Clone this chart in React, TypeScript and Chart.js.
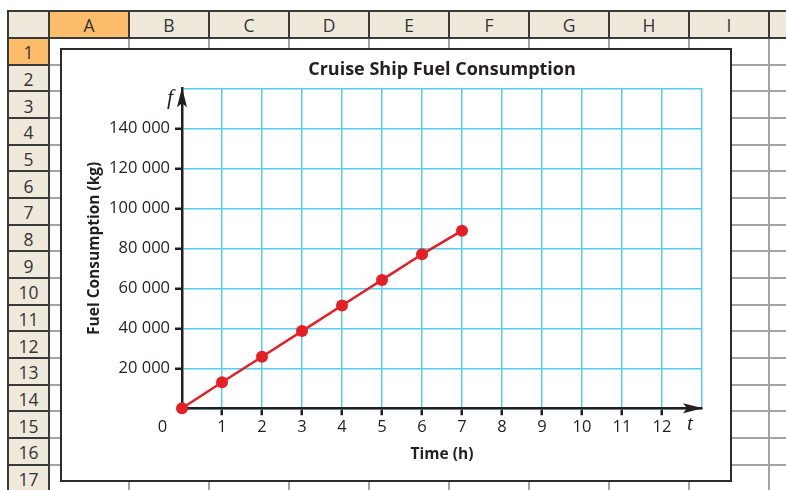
import React, { useEffect, useRef } from 'react';
import { Chart, registerables } from 'chart.js';

Chart.register(...registerables);

// ---------- data ----------
const timeHours = [0, 1, 2, 3, 4, 5, 6, 7];
const fuelKg = [0, 13000, 25800, 38600, 51400, 64200, 77000, 88800];
const xTickLabels = ['1', '2', '3', '4', '5', '6', '7', '8', '9', '10', '11', '12'];
const yTickLabels = ['20 000', '40 000', '60 000', '80 000', '100 000', '120 000', '140 000'];
const chartTitle = 'Cruise Ship Fuel Consumption';
const xAxisTitle = 'Time (h)';
const yAxisTitle = 'Fuel Consumption (kg)';
const columnLetters = ['A', 'B', 'C', 'D', 'E', 'F', 'G', 'H', 'I', ''];
const rowNumbers = [1, 2, 3, 4, 5, 6, 7, 8, 9, 10, 11, 12, 13, 14, 15, 16, 17];

// ---------- styling constants ----------
const FONT = '"Open Sans", sans-serif';
const INK = '#231f20';
const GRID = '#55cdf2';
const RED = '#e51f26';
const BEIGE = '#efe9dc';
const ORANGE = '#fdbd6b';
const DARK_LINE = '#3a3a3a';
const GRAY_LINE = '#a3a3a3';

const SHEET_L = 8;
const SHEET_T = 11;
const HEAD_B = 38;
const ROWHDR_R = 49;
const COL_W = 80;
const ROW_H = 26.67;
const PAGE_W = 786;
const PAGE_H = 490;

const axisDecor = {
  id: 'axisDecor',
  afterDraw(chart: any) {
    const ctx = chart.ctx;
    const xs = chart.scales.x;
    const ys = chart.scales.y;
    const x0 = xs.getPixelForValue(xs.min);
    const xEnd = xs.getPixelForValue(xs.max);
    const y0 = ys.getPixelForValue(ys.min);
    const yTop = ys.getPixelForValue(ys.max);
    ctx.save();
    ctx.fillStyle = INK;
    // y arrow head
    ctx.beginPath();
    ctx.moveTo(x0, yTop - 1);
    ctx.lineTo(x0 + 5, yTop + 19);
    ctx.lineTo(x0, yTop + 15);
    ctx.lineTo(x0 - 5, yTop + 19);
    ctx.closePath();
    ctx.fill();
    // x arrow head
    ctx.beginPath();
    ctx.moveTo(xEnd + 1, y0);
    ctx.lineTo(xEnd - 19, y0 + 5);
    ctx.lineTo(xEnd - 15, y0);
    ctx.lineTo(xEnd - 19, y0 - 5);
    ctx.closePath();
    ctx.fill();
    // origin label
    ctx.textAlign = 'center';
    ctx.textBaseline = 'middle';
    ctx.font = '16.5px ' + FONT;
    ctx.fillText('0', x0 - 19.5, y0 + 19);
    // variable names
    ctx.font = 'italic 22px "Liberation Serif", serif';
    ctx.fillText('f', x0 - 12, yTop + 10);
    ctx.font = 'italic 21px "Liberation Serif", serif';
    ctx.fillText('t', xEnd - 12, y0 + 16);
    ctx.restore();
  },
};

function ChartBox() {
  const ref = useRef<HTMLCanvasElement | null>(null);
  useEffect(() => {
    if (!ref.current) return;
    const chart = new Chart(ref.current, {
      type: 'line',
      data: {
        datasets: [
          {
            data: timeHours.map((t, i) => ({ x: t, y: fuelKg[i] })),
            borderColor: RED,
            backgroundColor: RED,
            borderWidth: 2.5,
            pointRadius: 6,
            pointBackgroundColor: RED,
            pointBorderWidth: 0,
            tension: 0,
            clip: false,
          } as any,
        ],
      },
      options: {
        animation: false,
        responsive: false,
        devicePixelRatio: 1,
        layout: { padding: { left: 0, right: 28, top: 0, bottom: 0 } },
        plugins: {
          legend: { display: false },
          tooltip: { enabled: false },
          title: {
            display: true,
            text: chartTitle,
            fullSize: false,
            color: INK,
            font: { family: FONT, size: 18, weight: 'bold' },
            padding: { top: 9, bottom: 7.7 },
          },
        },
        scales: {
          x: {
            type: 'linear',
            min: 0,
            max: 13,
            afterFit: (s: any) => {
              s.height = 71.7;
            },
            ticks: {
              stepSize: 1,
              autoSkip: false,
              maxRotation: 0,
              padding: 2,
              color: INK,
              font: { family: FONT, size: 16.5 },
              callback: (v: any) => (v >= 1 && v <= 12 ? xTickLabels[v - 1] : ''),
            },
            grid: {
              color: GRID,
              lineWidth: 1.5,
              tickLength: 7,
              tickWidth: 2.5,
              tickColor: (c: any) =>
                c.tick && c.tick.value >= 1 && c.tick.value <= 12 ? INK : 'rgba(0,0,0,0)',
            },
            border: { display: true, color: INK, width: 2.5 },
            title: {
              display: true,
              text: xAxisTitle,
              color: INK,
              font: { family: FONT, size: 15.5, weight: 'bold' },
              padding: { top: 0, bottom: 15.7 },
            },
          } as any,
          y: {
            type: 'linear',
            min: 0,
            max: 160000,
            afterFit: (s: any) => {
              s.width = 120;
            },
            ticks: {
              stepSize: 20000,
              autoSkip: false,
              padding: 5,
              color: INK,
              font: { family: FONT, size: 16.5 },
              callback: (v: any) => {
                const k = Math.round(v / 20000);
                return k >= 1 && k <= 7 ? yTickLabels[k - 1] : '';
              },
            },
            grid: {
              color: GRID,
              lineWidth: 1.5,
              tickLength: 7,
              tickWidth: 2.5,
              tickColor: (c: any) =>
                c.tick && c.tick.value >= 20000 && c.tick.value <= 140000 ? INK : 'rgba(0,0,0,0)',
            },
            border: { display: true, color: INK, width: 2.5 },
            title: {
              display: true,
              text: yAxisTitle,
              color: INK,
              font: { family: FONT, size: 15.5, weight: 'bold' },
              padding: { top: 23.7, bottom: 0 },
            },
          } as any,
        },
      } as any,
      plugins: [axisDecor],
    });
    return () => chart.destroy();
  }, []);
  return <canvas ref={ref} width={668} height={430} style={{ display: 'block' }} />;
}

function line(key: string, l: number, t: number, w: number, h: number, color: string) {
  return (
    <div
      key={key}
      style={{ position: 'absolute', left: l, top: t, width: w, height: h, background: color }}
    />
  );
}

export default function App() {
  const els: any[] = [];
  // header backgrounds
  els.push(line('hdrbg', SHEET_L, SHEET_T, PAGE_W - SHEET_L, HEAD_B - SHEET_T, BEIGE));
  els.push(line('rowbg', SHEET_L, HEAD_B, ROWHDR_R - SHEET_L, PAGE_H - HEAD_B, BEIGE));
  els.push(line('selA', ROWHDR_R, SHEET_T, COL_W, HEAD_B - SHEET_T, ORANGE));
  els.push(line('sel1', SHEET_L, HEAD_B, ROWHDR_R - SHEET_L, ROW_H, ORANGE));
  // body gray lines
  columnLetters.forEach((_, c) => {
    if (c === 0) return;
    const x = ROWHDR_R + c * COL_W;
    els.push(line('gv' + c, x - 1, HEAD_B, 2, PAGE_H - HEAD_B, GRAY_LINE));
  });
  rowNumbers.forEach((r) => {
    const y = HEAD_B + r * ROW_H;
    els.push(line('gh' + r, ROWHDR_R, y - 1, PAGE_W - ROWHDR_R, 2, GRAY_LINE));
  });
  // dark header lines
  els.push(line('dt', SHEET_L - 1, SHEET_T - 1, PAGE_W, 2, DARK_LINE));
  els.push(line('db', SHEET_L - 1, HEAD_B - 1, PAGE_W, 2, DARK_LINE));
  els.push(line('dl', SHEET_L - 1, SHEET_T - 1, 2, PAGE_H, DARK_LINE));
  els.push(line('dr', ROWHDR_R - 1, SHEET_T - 1, 2, PAGE_H, DARK_LINE));
  columnLetters.forEach((_, c) => {
    if (c === 0) return;
    const x = ROWHDR_R + c * COL_W;
    els.push(line('hv' + c, x - 1, SHEET_T, 2, HEAD_B - SHEET_T, DARK_LINE));
  });
  rowNumbers.forEach((r) => {
    const y = HEAD_B + r * ROW_H;
    els.push(line('hh' + r, SHEET_L, y - 1, ROWHDR_R - SHEET_L, 2, DARK_LINE));
  });
  // header texts
  columnLetters.forEach((letter, c) => {
    els.push(
      <div
        key={'ct' + c}
        style={{
          position: 'absolute',
          left: ROWHDR_R + c * COL_W,
          top: SHEET_T,
          width: COL_W,
          height: HEAD_B - SHEET_T,
          display: 'flex',
          alignItems: 'center',
          justifyContent: 'center',
          fontFamily: FONT,
          fontSize: 17.5,
          color: '#333',
          paddingTop: 1,
          boxSizing: 'border-box',
        }}
      >
        {letter}
      </div>
    );
  });
  rowNumbers.forEach((r) => {
    els.push(
      <div
        key={'rt' + r}
        style={{
          position: 'absolute',
          left: SHEET_L,
          top: HEAD_B + (r - 1) * ROW_H,
          width: ROWHDR_R - SHEET_L,
          height: ROW_H,
          display: 'flex',
          alignItems: 'center',
          justifyContent: 'center',
          fontFamily: FONT,
          fontSize: 17.5,
          color: '#333',
          paddingTop: 2,
          boxSizing: 'border-box',
        }}
      >
        {r}
      </div>
    );
  });

  return (
    <div
      style={{
        position: 'absolute',
        left: 0,
        top: 0,
        width: PAGE_W,
        height: PAGE_H,
        overflow: 'hidden',
        background: '#fff',
      }}
    >
      {els}
      <div
        style={{
          position: 'absolute',
          left: 60,
          top: 48,
          width: 672,
          height: 434,
          border: '2px solid #2b2b2b',
          boxSizing: 'border-box',
          background: '#fff',
        }}
      >
        <ChartBox />
      </div>
    </div>
  );
}
